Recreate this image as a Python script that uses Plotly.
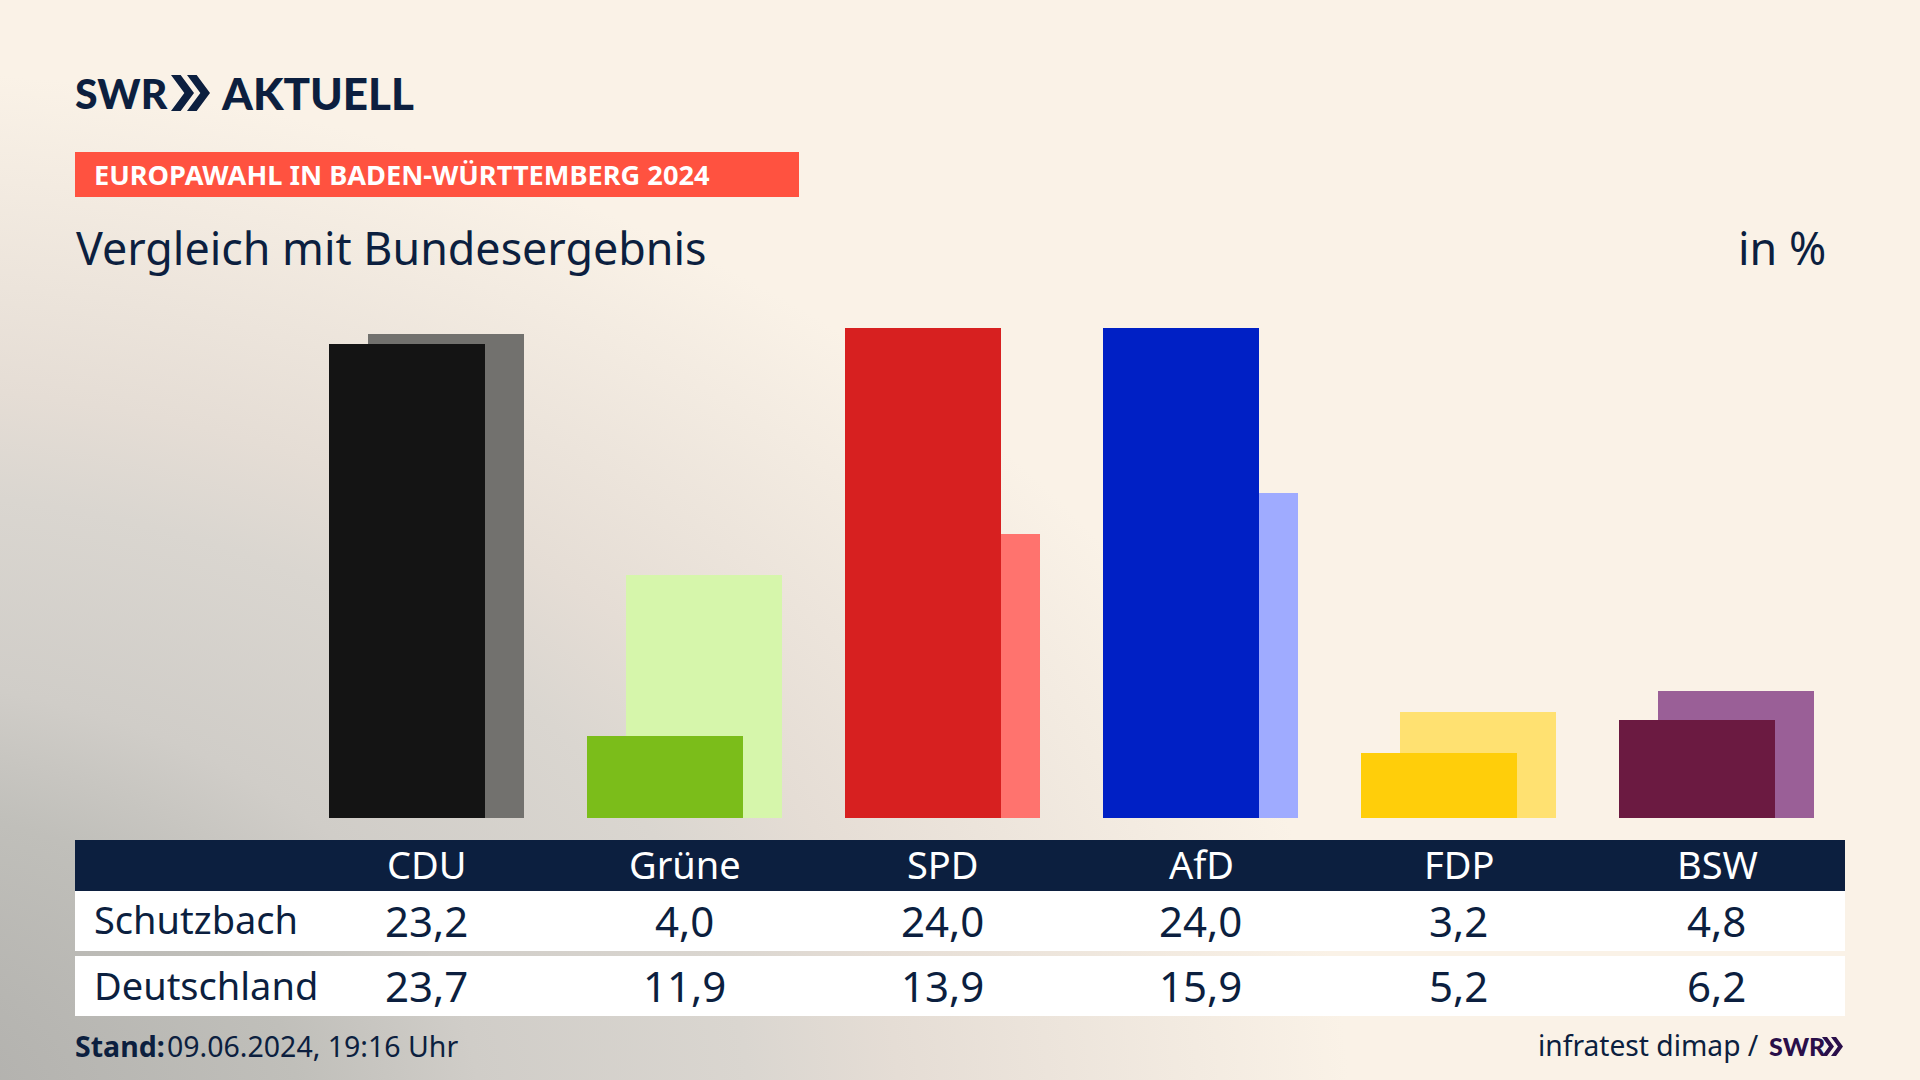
import urllib.parse
import plotly.graph_objects as go

parties = ["CDU", "Grüne", "SPD", "AfD", "FDP", "BSW"]
schutzbach = [23.2, 4.0, 24.0, 24.0, 3.2, 4.8]
deutschland = [23.7, 11.9, 13.9, 15.9, 5.2, 6.2]

dark_colors = ["#141414", "#7BBD1A", "#D72020", "#0020C5", "#FFCE0A", "#6B1A41"]
light_colors = ["#72716E", "#D6F6AB", "#FF736E", "#9FABFF", "#FFE171", "#9A5F97"]

W = 1920
H = 1080
NAVY = "#0C1F3F"
FONT = "Noto Sans"
LOGO_FONT = "Lato"


# pixel position on the page -> paper coordinates
def px(x):
    return x / W


def py(y):
    return 1 - y / H


def fmt(v):
    return f"{v:.1f}".replace(".", ",")


def rect(x0, y0, x1, y1, color):
    return dict(type="rect", xref="paper", yref="paper", x0=px(x0), x1=px(x1),
                y0=py(y0), y1=py(y1), fillcolor=color, line_width=0, layer="below")


def chevrons(x, top, bottom, w, gap, color):
    mid = (top + bottom) / 2
    path = ""
    for i in range(2):
        a = x + i * gap
        b = a + w * 0.42
        pts = [(a, top), (b, top), (a + w, mid), (b, bottom), (a, bottom), (a + w * 0.58, mid)]
        path += "M " + " L ".join(f"{px(p[0])},{py(p[1])}" for p in pts) + " Z "
    return dict(type="path", xref="paper", yref="paper", path=path,
                fillcolor=color, line_width=0)


def label(x, y, text, size, color=NAVY, anchor="left", weight=None, xref="paper", family=FONT):
    xpos = px(x) if xref == "paper" else x
    return dict(x=xpos, y=py(y), xref=xref, yref="paper", text=text, showarrow=False,
                xanchor=anchor, yanchor="middle",
                font=dict(family=family, size=size, color=color, weight=weight))


bg_svg = f"""<svg xmlns='http://www.w3.org/2000/svg' width='{W}' height='{H}'>
<defs><radialGradient id='g' gradientUnits='userSpaceOnUse' cx='0' cy='0' r='1'
 gradientTransform='translate(-150 1120) scale(1500 1050)'>
<stop offset='0' stop-color='#ADACA9'/>
<stop offset='0.3' stop-color='#C0BFBA'/>
<stop offset='0.42' stop-color='#D0CDC8'/>
<stop offset='0.6' stop-color='#DAD6D0'/>
<stop offset='0.7' stop-color='#E5DDD5'/>
<stop offset='1' stop-color='#FAF2E7'/>
</radialGradient></defs>
<rect width='{W}' height='{H}' fill='url(#g)'/></svg>"""

fig = go.Figure()
fig.add_trace(go.Bar(x=parties, y=deutschland, name="Deutschland", marker_color=light_colors,
                     marker_line_width=0, width=156.2 / 258, offset=-58.8 / 258))
fig.add_trace(go.Bar(x=parties, y=schutzbach, name="Schutzbach", marker_color=dark_colors,
                     marker_line_width=0, width=156.2 / 258, offset=-97.8 / 258))

shapes = [
    rect(75, 152, 799, 197, "#FF5240"),
    rect(75, 840, 1845, 891, NAVY),
    rect(75, 891, 1845, 951, "white"),
    rect(75, 956, 1845, 1016, "white"),
    chevrons(171, 75, 111, 23, 16, NAVY),
    chevrons(1822, 1037, 1056, 12, 9, "#2A0F4A"),
]

annotations = [
    label(73, 93, "SWR", 41, weight=900, family=LOGO_FONT),
    label(219, 93, "AKTUELL", 44, weight=900, family=LOGO_FONT),
    label(92, 175, "EUROPAWAHL IN BADEN-WÜRTTEMBERG 2024", 27.2, color="white", weight=700),
    label(74, 247, "Vergleich mit Bundesergebnis", 44.8),
    label(1828, 247, "in %", 44.8, anchor="right"),
    label(92, 919, "Schutzbach", 38),
    label(92, 985, "Deutschland", 38),
    label(73, 1046, "Stand:", 28.5, weight=700),
    label(165, 1046, "09.06.2024, 19:16 Uhr", 28.5),
    label(1761, 1045, "infratest dimap /", 28.2, anchor="right"),
    label(1767, 1046, "SWR", 25, color="#2A0F4A", weight=900, family=LOGO_FONT),
]
for p, a, b in zip(parties, schutzbach, deutschland):
    annotations.append(label(p, 864, p, 38, color="white", anchor="center", xref="x"))
    annotations.append(dict(label(p, 920, fmt(a), 42, anchor="center", xref="x"), xshift=-1))
    annotations.append(dict(label(p, 985, fmt(b), 42, anchor="center", xref="x"), xshift=-1))

fig.update_layout(
    width=W,
    height=H,
    autosize=False,
    margin=dict(l=0, r=0, t=0, b=0),
    barmode="overlay",
    bargap=0,
    showlegend=False,
    paper_bgcolor="#FAF2E7",
    plot_bgcolor="rgba(0,0,0,0)",
    shapes=shapes,
    annotations=annotations,
    images=[dict(source="data:image/svg+xml," + urllib.parse.quote(bg_svg), xref="paper", yref="paper",
                 x=0, y=1, sizex=1, sizey=1, xanchor="left", yanchor="top",
                 sizing="stretch", layer="below")],
)
fig.update_xaxes(type="category", categoryorder="array", categoryarray=parties,
                 range=[-0.5, 5.5], domain=[298 / W, 1846 / W], visible=False)
fig.update_yaxes(range=[0, 518 / 20.42], domain=[py(818), py(300)], visible=False)

fig.write_html("out.html", config={"displayModeBar": False},
               post_script="document.body.style.margin='0';")
